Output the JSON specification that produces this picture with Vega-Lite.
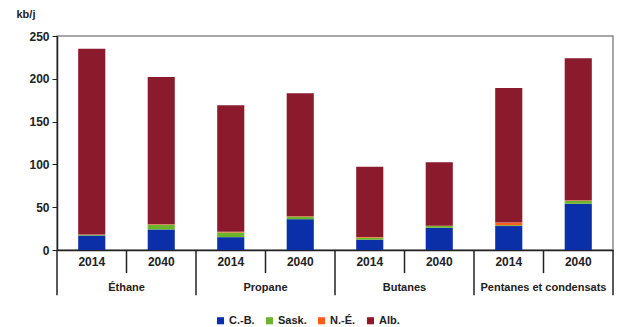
{
  "$schema": "https://vega.github.io/schema/vega-lite/v6.json",
  "width": 556,
  "height": 214,
  "autosize": {"type": "none"},
  "padding": {"left": 57, "top": 36, "right": 9, "bottom": 77},
  "background": "white",
  "config": {
    "view": {"stroke": "#8a8a8a", "strokeWidth": 1.5},
    "font": "Liberation Sans, sans-serif"
  },
  "data": {
    "values": [
      {"bar": "Éthane 2014", "product": "Éthane", "year": "2014", "series": "C.-B.", "s": 1, "value": 17},
      {"bar": "Éthane 2014", "product": "Éthane", "year": "2014", "series": "Sask.", "s": 2, "value": 0.7},
      {"bar": "Éthane 2014", "product": "Éthane", "year": "2014", "series": "N.-É.", "s": 3, "value": 0.5},
      {"bar": "Éthane 2014", "product": "Éthane", "year": "2014", "series": "Alb.", "s": 4, "value": 216.8},
      {"bar": "Éthane 2040", "product": "Éthane", "year": "2040", "series": "C.-B.", "s": 1, "value": 24},
      {"bar": "Éthane 2040", "product": "Éthane", "year": "2040", "series": "Sask.", "s": 2, "value": 5.5},
      {"bar": "Éthane 2040", "product": "Éthane", "year": "2040", "series": "N.-É.", "s": 3, "value": 0.5},
      {"bar": "Éthane 2040", "product": "Éthane", "year": "2040", "series": "Alb.", "s": 4, "value": 172},
      {"bar": "Propane 2014", "product": "Propane", "year": "2014", "series": "C.-B.", "s": 1, "value": 15},
      {"bar": "Propane 2014", "product": "Propane", "year": "2014", "series": "Sask.", "s": 2, "value": 5.5},
      {"bar": "Propane 2014", "product": "Propane", "year": "2014", "series": "N.-É.", "s": 3, "value": 0.7},
      {"bar": "Propane 2014", "product": "Propane", "year": "2014", "series": "Alb.", "s": 4, "value": 147.8},
      {"bar": "Propane 2040", "product": "Propane", "year": "2040", "series": "C.-B.", "s": 1, "value": 36},
      {"bar": "Propane 2040", "product": "Propane", "year": "2040", "series": "Sask.", "s": 2, "value": 3},
      {"bar": "Propane 2040", "product": "Propane", "year": "2040", "series": "N.-É.", "s": 3, "value": 0.5},
      {"bar": "Propane 2040", "product": "Propane", "year": "2040", "series": "Alb.", "s": 4, "value": 143.5},
      {"bar": "Butanes 2014", "product": "Butanes", "year": "2014", "series": "C.-B.", "s": 1, "value": 12},
      {"bar": "Butanes 2014", "product": "Butanes", "year": "2014", "series": "Sask.", "s": 2, "value": 2.5},
      {"bar": "Butanes 2014", "product": "Butanes", "year": "2014", "series": "N.-É.", "s": 3, "value": 0.7},
      {"bar": "Butanes 2014", "product": "Butanes", "year": "2014", "series": "Alb.", "s": 4, "value": 82.1},
      {"bar": "Butanes 2040", "product": "Butanes", "year": "2040", "series": "C.-B.", "s": 1, "value": 26},
      {"bar": "Butanes 2040", "product": "Butanes", "year": "2040", "series": "Sask.", "s": 2, "value": 2},
      {"bar": "Butanes 2040", "product": "Butanes", "year": "2040", "series": "N.-É.", "s": 3, "value": 0.3},
      {"bar": "Butanes 2040", "product": "Butanes", "year": "2040", "series": "Alb.", "s": 4, "value": 74.1},
      {"bar": "Pentanes 2014", "product": "Pentanes et condensats", "year": "2014", "series": "C.-B.", "s": 1, "value": 28},
      {"bar": "Pentanes 2014", "product": "Pentanes et condensats", "year": "2014", "series": "Sask.", "s": 2, "value": 1},
      {"bar": "Pentanes 2014", "product": "Pentanes et condensats", "year": "2014", "series": "N.-É.", "s": 3, "value": 3},
      {"bar": "Pentanes 2014", "product": "Pentanes et condensats", "year": "2014", "series": "Alb.", "s": 4, "value": 157.3},
      {"bar": "Pentanes 2040", "product": "Pentanes et condensats", "year": "2040", "series": "C.-B.", "s": 1, "value": 54},
      {"bar": "Pentanes 2040", "product": "Pentanes et condensats", "year": "2040", "series": "Sask.", "s": 2, "value": 3.5},
      {"bar": "Pentanes 2040", "product": "Pentanes et condensats", "year": "2040", "series": "N.-É.", "s": 3, "value": 0.5},
      {"bar": "Pentanes 2040", "product": "Pentanes et condensats", "year": "2040", "series": "Alb.", "s": 4, "value": 166}
    ]
  },
  "encoding": {
    "x": {
      "field": "bar",
      "type": "nominal",
      "sort": null,
      "scale": {"paddingInner": 0, "paddingOuter": 0},
      "axis": {"labels": false, "ticks": false, "title": null, "domainColor": "#222", "domainWidth": 1.5}
    }
  },
  "layer": [
    {
      "mark": {"type": "bar", "width": {"band": 0.39}},
      "encoding": {
        "y": {
          "field": "value",
          "type": "quantitative",
          "aggregate": "sum",
          "stack": "zero",
          "scale": {"domain": [0, 250], "nice": false},
          "axis": {
            "values": [0, 50, 100, 150, 200, 250],
            "grid": false,
            "title": "kb/j",
            "titleAngle": 0,
            "titleAlign": "left",
            "titleBaseline": "middle",
            "titleX": -41,
            "titleY": -22,
            "titleFontSize": 11,
            "titleFontWeight": "bold",
            "titleColor": "#222",
            "labelFontSize": 12,
            "labelFontWeight": "bold",
            "labelColor": "#222",
            "labelPadding": 3,
            "tickSize": 5,
            "tickColor": "#222",
            "domainColor": "#222",
            "domainWidth": 1.5
          }
        },
        "color": {
          "field": "series",
          "type": "nominal",
          "scale": {
            "domain": ["C.-B.", "Sask.", "N.-É.", "Alb."],
            "range": ["#0b2fa8", "#6cb42c", "#ff5b1c", "#8b1a2c"]
          },
          "legend": {
            "orient": "none",
            "direction": "horizontal",
            "legendX": 158,
            "legendY": 279,
            "title": null,
            "symbolType": "square",
            "symbolSize": 50,
            "symbolStrokeWidth": 0,
            "labelFontSize": 11,
            "labelFontWeight": "bold",
            "labelColor": "#222",
            "labelOffset": 3,
            "columnPadding": 9
          }
        },
        "order": {"field": "s", "type": "quantitative", "sort": "ascending"}
      }
    },
    {
      "transform": [{"filter": "datum.series == 'Alb.' && datum.year == '2014'"}],
      "mark": {"type": "rule", "color": "#222", "strokeWidth": 1.5},
      "encoding": {
        "x": {"field": "bar", "type": "nominal", "sort": null, "bandPosition": 0},
        "y": {"datum": 0},
        "y2": {"datum": -53}
      }
    },
    {
      "transform": [{"filter": "datum.series == 'Alb.' && datum.bar == 'Pentanes 2040'"}],
      "mark": {"type": "rule", "color": "#222", "strokeWidth": 1.5},
      "encoding": {
        "x": {"field": "bar", "type": "nominal", "sort": null, "bandPosition": 1},
        "y": {"datum": 0},
        "y2": {"datum": -53}
      }
    },
    {
      "transform": [{"filter": "datum.series == 'Alb.' && datum.year == '2040'"}],
      "mark": {"type": "rule", "color": "#222", "strokeWidth": 1.5},
      "encoding": {
        "x": {"field": "bar", "type": "nominal", "sort": null, "bandPosition": 0},
        "y": {"datum": 0},
        "y2": {"datum": -27}
      }
    },
    {
      "transform": [{"filter": "datum.series == 'Alb.'"}],
      "mark": {"type": "text", "fontSize": 12, "fontWeight": "bold", "color": "#222", "baseline": "middle"},
      "encoding": {
        "x": {"field": "bar", "type": "nominal", "sort": null, "bandPosition": 0.5},
        "y": {"datum": -14},
        "text": {"field": "year"}
      }
    },
    {
      "transform": [{"filter": "datum.series == 'Alb.' && datum.year == '2014'"}],
      "mark": {"type": "text", "fontSize": 11, "fontWeight": "bold", "color": "#222", "baseline": "middle"},
      "encoding": {
        "x": {"field": "bar", "type": "nominal", "sort": null, "bandPosition": 1},
        "y": {"datum": -44},
        "text": {"field": "product"}
      }
    }
  ]
}
